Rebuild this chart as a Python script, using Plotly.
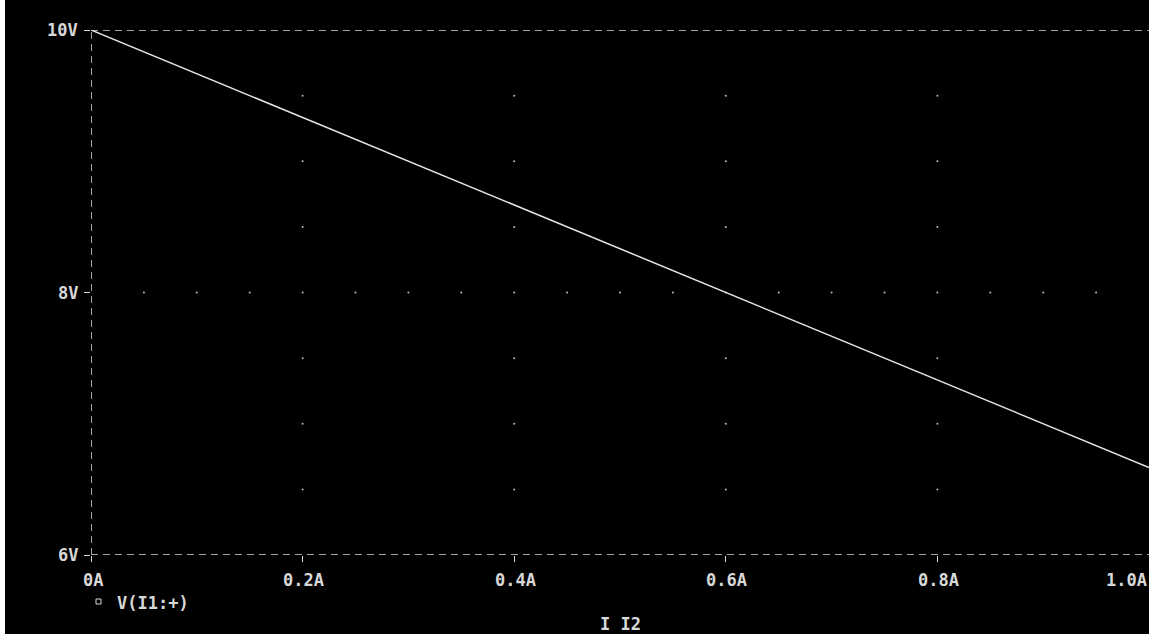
import plotly.graph_objects as go

# Data (PSpice-style plot)
current_a = [0.0, 0.2, 0.4, 0.6, 0.8, 1.0]
voltage_v = [10.0, 9.333, 8.667, 8.0, 7.333, 6.667]

x_ticks = [0.0, 0.2, 0.4, 0.6, 0.8, 1.0]
x_tick_labels = ["0A", "0.2A", "0.4A", "0.6A", "0.8A", "1.0A"]
y_ticks = [6, 8, 10]
y_tick_labels = ["6V", "8V", "10V"]

series_name = "V(I1:+)"
x_title = "I I2"

FG = "#d8d8d8"
FONT = dict(family="DejaVu Sans Mono", size=17, color=FG, weight="bold")

# page: body margin removed except a thin white strip on the left
OFF = 5
W, H = 1149 - OFF, 634
L, T, B, R = 91 - OFF, 30, 634 - 555, 0
PW = W - L - R
PH = H - T - B

fig = go.Figure()

# grid dots: row at 8V every 0.05A, columns at each 0.2A every 0.5V
gx, gy = [], []
for i in range(1, 20):
    gx.append(i * 0.05)
    gy.append(8.0)
for xv in x_ticks[1:-1]:
    for j in range(1, 8):
        yv = 6 + j * 0.5
        if yv != 8.0:
            gx.append(xv)
            gy.append(yv)
fig.add_trace(go.Scatter(x=gx, y=gy, mode="markers",
                         marker=dict(size=2, color="#bdbdbd", line=dict(width=0)),
                         hoverinfo="skip", showlegend=False))

fig.add_trace(go.Scatter(x=current_a, y=voltage_v, mode="lines",
                         line=dict(color="#e6e6e6", width=1.5),
                         name=series_name, showlegend=False))

dash = "7px,5px"
fig.add_shape(type="line", x0=0, x1=1, y0=10, y1=10, xref="x", yref="y",
              line=dict(color=FG, width=1.5, dash=dash))
fig.add_shape(type="line", x0=0, x1=1, y0=6, y1=6, xref="x", yref="y",
              line=dict(color=FG, width=1.5, dash=dash))
fig.add_shape(type="line", x0=0, x1=0, y0=6, y1=10, xref="x", yref="y",
              line=dict(color=FG, width=1.5, dash=dash))

annotations = []
for xv, lab in zip(x_ticks, x_tick_labels):
    if xv >= 1.0:
        annotations.append(dict(x=xv, y=0, xref="x", yref="paper", text=lab,
                                showarrow=False, xanchor="right", yanchor="middle",
                                yshift=-25, font=FONT))
    else:
        annotations.append(dict(x=xv, y=0, xref="x", yref="paper", text=lab,
                                showarrow=False, xanchor="center", yanchor="middle",
                                yshift=-25, xshift=2 if xv == 0 else 1, font=FONT))
for yv, lab in zip(y_ticks, y_tick_labels):
    annotations.append(dict(x=0, y=yv, xref="paper", yref="y", text=lab,
                            showarrow=False, xanchor="right", yanchor="middle",
                            xshift=-11, font=FONT))
annotations.append(dict(x=0, y=0, xref="paper", yref="paper", text=series_name,
                        showarrow=False, xanchor="left", yanchor="middle",
                        xshift=24, yshift=-48, font=FONT))
annotations.append(dict(x=0.5, y=0, xref="paper", yref="paper", text=x_title,
                        showarrow=False, xanchor="center", yanchor="middle",
                        yshift=-69, font=FONT))

# legend marker square
fig.add_shape(type="rect", xref="paper", yref="paper",
              x0=5 / PW, x1=10 / PW,
              y0=-49 / PH, y1=-44 / PH,
              line=dict(color=FG, width=1), fillcolor="rgba(0,0,0,0)")

fig.update_layout(
    width=W, height=H,
    margin=dict(l=L, r=R, t=T, b=B),
    paper_bgcolor="black", plot_bgcolor="black",
    showlegend=False,
    annotations=annotations,
    xaxis=dict(range=[0, 1], showgrid=False, zeroline=False, showline=False,
               tickvals=x_ticks, ticks="outside", ticklen=6, tickcolor=FG,
               tickwidth=1, showticklabels=False, fixedrange=True),
    yaxis=dict(range=[6, 10], showgrid=False, zeroline=False, showline=False,
               tickvals=y_ticks, ticks="outside", ticklen=6, tickcolor=FG,
               tickwidth=1, showticklabels=False, fixedrange=True),
)

fig.write_html(
    "out.html",
    config={"displayModeBar": False},
    post_script="document.body.style.margin='0 0 0 %dpx';"
                "document.body.style.overflow='hidden';" % OFF,
)
